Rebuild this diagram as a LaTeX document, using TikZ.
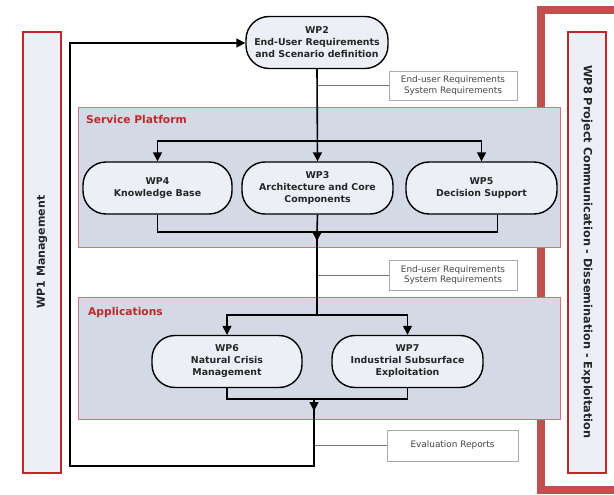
\documentclass[tikz,border=0pt]{standalone}
\usepackage{fontspec}
\setmainfont{DejaVu Sans}
\usetikzlibrary{arrows.meta,calc}

\definecolor{wpred}{RGB}{192,40,40}
\definecolor{framered}{RGB}{192,80,77}
\definecolor{regionfill}{RGB}{211,218,229}
\definecolor{regionline}{RGB}{212,115,115}
\definecolor{nodefill}{RGB}{236,239,245}
\definecolor{notegray}{RGB}{170,170,170}
\definecolor{notetext}{RGB}{70,70,70}

\tikzset{
  wpnode/.style={draw=black, line width=1.4pt, fill=nodefill, rounded corners=23pt,
    minimum height=52pt, align=center, inner sep=0pt,
    font=\fontsize{9.4}{12}\selectfont\bfseries, text=black!85},
  flow/.style={line width=1.6pt},
  flowarrow/.style={flow, -{Triangle[width=9pt,length=9pt]}},
  note/.style={draw=notegray, line width=0.8pt, fill=white, align=center,
    font=\fontsize{8.9}{10.5}\selectfont, text=notetext,
    minimum width=128pt, minimum height=29pt, inner sep=0pt},
  noteline/.style={draw=black!55, line width=0.7pt},
  region/.style={draw=regionline, fill=regionfill, line width=0.8pt},
  regionlabel/.style={anchor=base west, text=wpred, inner sep=0pt,
    font=\fontsize{10.7}{12}\selectfont\bfseries},
  sidebar/.style={draw=wpred, line width=1.6pt, fill=nodefill},
  sidelabel/.style={font=\fontsize{11}{13}\selectfont\bfseries, text=black!85, inner sep=0pt}
}

\begin{document}
\begin{tikzpicture}[x=1pt,y=-1pt]
\useasboundingbox (0,0) rectangle (614,495);

% management and communication bars
\draw[sidebar] (23,32) rectangle (61,473);
\node[sidelabel, rotate=90] (wp1) at (42,252) {WP1 Management};
\draw[framered, line width=8pt] (620,10.5) -- (541,10.5) -- (541,489.5) -- (620,489.5);
\draw[sidebar] (568,32) rectangle (606,473);
\node[sidelabel, rotate=-90, font=\fontsize{11.3}{13}\selectfont\bfseries] (wp8) at (587,252)
  {WP8 Project Communication - Dissemination - Exploitation};

% grouping regions
\draw[region] (78,107) rectangle (560,247);
\node[regionlabel] (splabel) at (86,124) {Service Platform};
\draw[region] (78,297) rectangle (560,419);
\node[regionlabel] (applabel) at (88,315) {Applications};

% work packages
\node[wpnode, minimum width=142pt] (wp2) at (317,42.5) {WP2\\End-User Requirements\\and Scenario definition};
\node[wpnode, minimum width=149pt] (wp4) at (157.5,188) {WP4\\Knowledge Base};
\node[wpnode, minimum width=151pt] (wp3) at (317.5,188) {WP3\\Architecture and Core\\Components};
\node[wpnode, minimum width=151pt] (wp5) at (481.5,188) {WP5\\Decision Support};
\node[wpnode, minimum width=150pt] (wp6) at (227,361.5) {WP6\\Natural Crisis\\Management};
\node[wpnode, minimum width=151pt] (wp7) at (407.5,361.5) {WP7\\Industrial Subsurface\\Exploitation};

% deliverable notes
\node[note] (n1) at (453,85.5) {End-user Requirements\\System Requirements};
\node[note, minimum height=30pt] (n2) at (453,275) {End-user Requirements\\System Requirements};
\node[note, minimum width=131pt, minimum height=31pt] (n3) at (452.5,445.5) {Evaluation Reports};

% junction points
\coordinate (s1) at (317,141);
\coordinate (m1) at (317,232);
\coordinate (h1) at (317,241);
\coordinate (s2) at (317,315);
\coordinate (m2) at (314,399);
\coordinate (h2) at (314,411);
\coordinate (b2) at (314,466);
\coordinate (bl) at (70,466);
\coordinate (tl) at (70,43);
\coordinate (wp5in) at ($(wp5.south)+(16,0)$);

% note links
\draw[noteline] (317,85.5) coordinate (c1) -- (n1.west);
\draw[noteline] (317,275) coordinate (c2) -- (n2.west);
\draw[noteline] (314,445.5) coordinate (c3) -- (n3.west);

% flow into the service platform
\draw[flowarrow] (wp2.south) -- (wp3.north);
\draw[flowarrow] (s1) -| (wp4.north);
\draw[flowarrow] (s1) -| (wp5.north);

% merge of the service platform
\draw[flow] (wp4.south) |- (m1);
\draw[flow] (wp5in) |- (m1);
\draw[flow] (wp3.south) -- (m1);
\draw[flow] (m1) -- (s2);
\draw[flowarrow] (m1) -- (h1);

% flow into the applications
\draw[flowarrow] (s2) -| (wp6.north);
\draw[flowarrow] (s2) -| (wp7.north);

% merge of the applications and feedback loop
\draw[flow] (wp6.south) |- (m2);
\draw[flow] (wp7.south) |- (m2);
\draw[flowarrow] (m2) -- (h2);
\draw[flowarrow, rounded corners=0pt] (m2) -- (b2) -- (bl) -- (tl) -- (wp2.west |- tl);
\end{tikzpicture}
\end{document}
